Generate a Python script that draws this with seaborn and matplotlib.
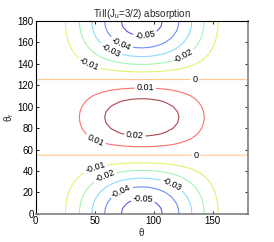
#!/usr/bin/env python3
import numpy as np
import seaborn as sns
from matplotlib import pyplot as plt

# theta axis (deg) and absorption profile along theta_r = 0
theta = list(range(0, 181, 5))
theta_profile = [
    0.0, -0.0004, -0.0017, -0.0037, -0.0064, -0.0098, -0.0138, -0.0181,
    -0.0227, -0.0275, -0.0323, -0.0369, -0.0413, -0.0452, -0.0486, -0.0513,
    -0.0533, -0.0546, -0.0550, -0.0546, -0.0533, -0.0513, -0.0486, -0.0452,
    -0.0413, -0.0369, -0.0323, -0.0275, -0.0227, -0.0181, -0.0138, -0.0098,
    -0.0064, -0.0037, -0.0017, -0.0004, 0.0,
]

# theta_r axis (deg) and relative weight along it
theta_r = list(range(0, 181, 5))
theta_r_weight = [
    1.0, 0.9886, 0.9548, 0.8995, 0.8245, 0.7321, 0.625, 0.5065, 0.3802,
    0.25, 0.1198, -0.0065, -0.125, -0.2321, -0.3245, -0.3995, -0.4548,
    -0.4886, -0.5, -0.4886, -0.4548, -0.3995, -0.3245, -0.2321, -0.125,
    -0.0065, 0.1198, 0.25, 0.3802, 0.5065, 0.625, 0.7321, 0.8245, 0.8995,
    0.9548, 0.9886, 1.0,
]

levels = [-0.05, -0.04, -0.03, -0.02, -0.01, 0.0, 0.01, 0.02]
level_colors = ['#5a5ae6', '#6e8cfa', '#8cdcfa', '#a0f5b4',
                '#dcf56e', '#ffc88c', '#ff6e6e', '#aa4650']

# where the inline labels sit (data coords)
label_pos = [
    (93, 166), (72, 157), (63, 151), (125, 148), (44, 136), (135, 125),
    (93, 118), (84, 72), (49, 64), (136, 55), (51, 41), (59, 34),
    (116, 29), (73, 20), (91, 13),
]

sns.set_theme(style='ticks')
plt.rcParams['font.family'] = ['Liberation Sans', 'DejaVu Sans']

Z = np.outer(theta_r_weight, theta_profile)

fig = plt.figure(figsize=(2.74, 2.42), dpi=100)
ax = fig.add_axes([0.130, 0.116, 0.775, 0.798])
cs = ax.contour(theta, theta_r, Z, levels=levels, colors=level_colors,
                linewidths=0.8)
ax.clabel(cs, fmt=lambda v: f'{v:g}', fontsize=6.5, inline=True,
          inline_spacing=2, manual=label_pos, colors='black')

ax.set_xlim(0, 180)
ax.set_ylim(0, 180)
ax.set_xticks([0, 50, 100, 150])
ax.set_yticks(range(0, 181, 20))
ax.tick_params(direction='in', length=2, width=0.6, labelsize=7,
               pad=1.5, top=True, right=True, colors='black')
for side in ('left', 'top'):
    ax.spines[side].set_color('black')
    ax.spines[side].set_linewidth(0.8)
for side in ('right', 'bottom'):
    ax.spines[side].set_color('#808080')
    ax.spines[side].set_linewidth(1.2)

ax.set_xlabel(r'$\mathregular{\theta}$', fontsize=7, labelpad=0)
ax.set_ylabel(r'$\mathregular{\theta_r}$', fontsize=7, labelpad=1)
ax.set_title(r'TiII(J$\mathregular{_u}$=3/2) absorption', fontsize=7,
             pad=3)

fig.savefig('out.png', dpi=100)
